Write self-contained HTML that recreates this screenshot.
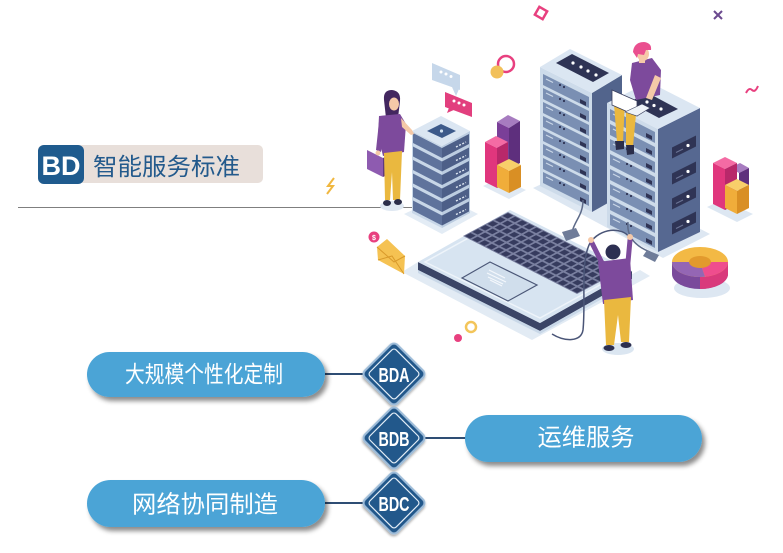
<!DOCTYPE html>
<html><head><meta charset="utf-8">
<style>
html,body{margin:0;padding:0;background:#fff;}
body{width:783px;height:553px;overflow:hidden;}
svg{display:block;}
.cjk{font-family:"Liberation Sans","Noto Sans CJK SC","WenQuanYi Zen Hei",sans-serif;}
.nar{font-family:"Liberation Sans Narrow","Liberation Sans",sans-serif;font-weight:bold;}
</style></head><body>
<svg width="783" height="553" viewBox="0 0 783 553" xmlns="http://www.w3.org/2000/svg">
<defs>
<filter id="sh" x="-10%" y="-30%" width="125%" height="180%">
<feDropShadow dx="3" dy="4" stdDeviation="2.5" flood-color="#000" flood-opacity="0.45"/>
</filter>
<filter id="dsh" x="-30%" y="-30%" width="160%" height="160%">
<feDropShadow dx="1" dy="1.5" stdDeviation="1.2" flood-color="#000" flood-opacity="0.35"/>
</filter>
<pattern id="keys" width="10" height="10" patternUnits="userSpaceOnUse" patternTransform="matrix(0.7125 0.3625 0.75 -0.4 463 236)">
<rect width="10" height="10" fill="#7a80a0"/>
<rect x="1.3" y="1.3" width="7.4" height="7.4" fill="#363b5e"/>
</pattern>
<g id="t1row">
<polygon points="543,74 589,97 589,108 543,85" fill="#7a8fb3"/>
<polygon points="580,99 586,102 586,106 580,103" fill="#2f3455"/>
<circle cx="560" cy="85" r="1.1" fill="#2f3455"/>
<circle cx="564" cy="87" r="1.1" fill="#2f3455"/>
<line x1="546" y1="79" x2="553" y2="82.5" stroke="#c9d6e6" stroke-width="1.2"/>
</g>
<g id="t2row">
<polygon points="610,109 655,132 655,143 610,120" fill="#7a8fb3"/>
<polygon points="646,133 652,136 652,140 646,137" fill="#2f3455"/>
<circle cx="627" cy="119" r="1.1" fill="#2f3455"/>
<circle cx="631" cy="121" r="1.1" fill="#2f3455"/>
<line x1="613" y1="114" x2="620" y2="117.5" stroke="#c9d6e6" stroke-width="1.2"/>
</g>
<g id="srowL"><polygon points="413,133 442,148 442,158 413,143" fill="#5f739c"/></g>
<g id="srowR"><polygon points="442,148 469,134 469,144 442,158" fill="#4d5f88"/>
<line x1="456" y1="147" x2="466" y2="142" stroke="#dfe8f3" stroke-width="1.4" stroke-dasharray="2 1.5"/></g>
<g id="slot"><polygon points="672,0 696,-12 696,-1 672,11" fill="#2f3455"/>
<circle cx="688" cy="-2" r="1.6" fill="#fff"/><line x1="676" y1="5" x2="683" y2="1.5" stroke="#6d7596" stroke-width="1"/></g>
</defs>

<!-- ===== header ===== -->
<rect x="38" y="145" width="225" height="38" rx="5" fill="#e8dfda"/>
<rect x="38" y="145" width="46" height="39" rx="6" fill="#1f5b8e"/>
<text x="61" y="175" font-size="27" font-weight="bold" fill="#fff" text-anchor="middle" font-family="Liberation Sans, sans-serif">BD</text>
<text x="93" y="175" font-size="24" fill="#235a8c" class="cjk" textLength="147" lengthAdjust="spacingAndGlyphs">智能服务标准</text>
<line x1="18" y1="207.5" x2="420" y2="207.5" stroke="#7f7f7f" stroke-width="1"/>

<!-- ===== illustration ===== -->
<!-- floor shadows -->
<polygon points="404,214 442,234 478,214 442,196" fill="#e3ecf5"/>
<ellipse cx="392" cy="206" rx="12" ry="5" fill="#dfe8f2"/>
<polygon points="533,188 663,258 710,234 580,166" fill="#dde7f2"/>
<polygon points="483,186 509,199 526,190 500,178" fill="#e0e9f3"/>
<polygon points="707,207 737,222 753,214 722,200" fill="#dde7f2"/>
<ellipse cx="702" cy="288" rx="28" ry="10" fill="#dde7f2"/>
<ellipse cx="618" cy="349" rx="16" ry="6" fill="#dbe6f1"/>

<!-- small server stack -->
<polygon points="412,131 442,146 442,228 412,213" fill="#c8d7e8"/>
<use href="#srowL"/><use href="#srowL" y="13.5"/><use href="#srowL" y="27"/><use href="#srowL" y="40.5"/><use href="#srowL" y="54"/><use href="#srowL" y="67.5"/>
<polygon points="442,146 470,131 470,213 442,228" fill="#bccde1"/>
<use href="#srowR"/><use href="#srowR" y="13.5"/><use href="#srowR" y="27"/><use href="#srowR" y="40.5"/><use href="#srowR" y="54"/><use href="#srowR" y="67.5"/>
<polygon points="412,131 441,116 470,131 442,146" fill="#dbe6f2"/>
<polygon points="427,131 441,124 456,131 442,138" fill="#3d5a8a"/>
<circle cx="441.5" cy="131" r="1.6" fill="#cfe0f0"/>

<!-- woman -->
<polygon points="367,150 383,158 383,177 367,169" fill="#8e5bb0"/>
<polygon points="383,158 385,157 385,176 383,177" fill="#5e3a7e"/>
<path d="M384,100 Q383,90 392,90 Q401,91 400,101 L398,118 L386,118 Z" fill="#43275f"/>
<ellipse cx="394" cy="104" rx="5" ry="6.5" fill="#f5c9a8"/>
<polygon points="379,116 400,114 406,124 404,152 383,156 378,135" fill="#7d4a9c"/>
<polygon points="401,118 412,130 414,134 411,135 402,127" fill="#f5c9a8"/>
<polygon points="379,122 385,124 381,152 376,150" fill="#7d4a9c"/>
<circle cx="378" cy="153" r="2.5" fill="#f5c9a8"/>
<polygon points="384,153 402,151 400,200 393,200 392,172 390,200 385,200" fill="#eab83f"/>
<ellipse cx="387" cy="203" rx="4" ry="3" fill="#2b2e4a"/>
<ellipse cx="398" cy="202" rx="4" ry="3" fill="#2b2e4a"/>

<!-- chat bubbles -->
<polygon points="432,63 460,75 460,90 432,80" fill="#c6d7ea"/>
<polygon points="452,87 456,96 459,89" fill="#c6d7ea"/>
<circle cx="441" cy="72" r="1.5" fill="#fff"/><circle cx="446" cy="74" r="1.5" fill="#fff"/><circle cx="451" cy="76.5" r="1.5" fill="#fff"/>
<polygon points="445,92 472,103 472,117 445,107" fill="#e23f7e"/>
<polygon points="450,105 447,113 456,109" fill="#e23f7e"/>
<circle cx="454" cy="101" r="1.5" fill="#fff"/><circle cx="459" cy="103" r="1.5" fill="#fff"/><circle cx="464" cy="105" r="1.5" fill="#fff"/>

<!-- ring -->
<circle cx="506" cy="64" r="8" fill="none" stroke="#e8407f" stroke-width="2.5"/>
<circle cx="497" cy="72" r="6.5" fill="#f2c05a"/>

<!-- left bar chart -->
<polygon points="497,122 508,115 520,121 509,128" fill="#a77cc0"/>
<polygon points="497,122 509,128 509,170 497,164" fill="#7a3f98"/>
<polygon points="509,128 520,121 520,163 509,170" fill="#5e2f7d"/>
<polygon points="485,142 496,136 508,142 497,148" fill="#f46ba4"/>
<polygon points="485,142 497,148 497,188 485,182" fill="#e0367d"/>
<polygon points="497,148 508,142 508,182 497,188" fill="#b8286a"/>
<polygon points="497,165 509,159 521,165 509,171" fill="#f8cf6a"/>
<polygon points="497,165 509,171 509,193 497,187" fill="#f0ad3a"/>
<polygon points="509,171 521,165 521,187 509,193" fill="#d98f24"/>

<!-- tower 1 -->
<polygon points="592,93 622,75 622,195 592,212" fill="#52648c"/>
<polygon points="540,67 592,93 592,212 540,186" fill="#cddbea"/>
<use href="#t1row"/><use href="#t1row" y="14"/><use href="#t1row" y="28"/><use href="#t1row" y="42"/><use href="#t1row" y="56"/><use href="#t1row" y="70"/><use href="#t1row" y="84"/><use href="#t1row" y="98"/>
<polygon points="540,67 570,49 622,75 592,93" fill="#dbe6f2"/>
<polygon points="556,63 572,54 609,73 593,82" fill="#2f3455"/>
<circle cx="573" cy="63" r="1.6" fill="#fff"/><circle cx="581" cy="67" r="1.6" fill="#fff"/><circle cx="588" cy="71" r="1.6" fill="#fff"/><circle cx="596" cy="75" r="1.6" fill="#fff"/>

<!-- tower 2 -->
<polygon points="607,103 658,129 658,252 607,227" fill="#cddbea"/>
<use href="#t2row"/><use href="#t2row" y="15"/><use href="#t2row" y="30"/><use href="#t2row" y="45"/><use href="#t2row" y="60"/><use href="#t2row" y="75"/><use href="#t2row" y="90"/><use href="#t2row" y="105"/>
<polygon points="658,129 700,108 700,232 658,252" fill="#566891"/>
<use href="#slot" y="147.5"/><use href="#slot" y="173.5"/><use href="#slot" y="198.5"/><use href="#slot" y="223.5"/>
<polygon points="607,103 649,82 700,108 658,129" fill="#dbe6f2"/>
<polygon points="629,102 648,93 678,109 659,118" fill="#2f3455"/>
<circle cx="647" cy="102" r="1.6" fill="#fff"/><circle cx="654" cy="105.5" r="1.6" fill="#fff"/><circle cx="661" cy="109" r="1.6" fill="#fff"/>

<!-- sitting person -->
<polygon points="614,104 625,100 623,142 617,142" fill="#eab83f"/>
<polygon points="626,102 637,104 633,146 626,146" fill="#eab83f"/>
<polygon points="615,141 624,141 624,149 616,150" fill="#2b2e4a"/>
<polygon points="626,145 634,145 634,154 627,155" fill="#2b2e4a"/>
<polygon points="632,63 652,58 661,70 660,95 636,100 630,80" fill="#7d4a9c"/>
<polygon points="655,75 661,78 652,100 646,98" fill="#f5c9a8"/>
<polygon points="612,90 637,101 637,116 612,105" fill="#fff" stroke="#3a3f5e" stroke-width="0.8"/>
<polygon points="625,112 642,104 650,108 637,116" fill="#eef3f8" stroke="#3a3f5e" stroke-width="0.6"/>
<rect x="639" y="55" width="6" height="8" fill="#f5c9a8"/>
<ellipse cx="643" cy="54" rx="6" ry="7" fill="#f5c9a8"/>
<path d="M633,52 Q634,42 644,42 Q652,43 651,50 L646,50 L644,55 L638,54 L637,58 Z" fill="#ea4f8f"/>

<!-- laptop -->
<polygon points="402,272 532,340 650,276 640,270 540,323 418,262" fill="#e2ebf4"/>
<polygon points="418,262 540,323 632,271 632,279 540,331 418,270" fill="#3b4567"/>
<polygon points="418,270 540,331 632,279 632,282 540,334 418,273" fill="#c9d8e8"/>
<polygon points="418,262 510,210 632,271 540,323" fill="#d7e4f1"/>
<polygon points="425,262 510,215 625,271 540,318" fill="none" stroke="#eef4fa" stroke-width="1.5"/>
<polygon points="463,236 508,212 622,270 577,294" fill="url(#keys)"/>
<polygon points="462,278 490,262 537,285 508,301" fill="#d0deec" stroke="#4c5878" stroke-width="1.2"/>
<g stroke="#f4f8fc" stroke-width="1.2">
<line x1="489" y1="270" x2="505" y2="278"/><line x1="487" y1="273" x2="506" y2="282"/><line x1="488" y1="277" x2="503" y2="284"/><line x1="490" y1="280" x2="502" y2="286"/>
</g>

<!-- cables & plugs -->
<path d="M583,200 C583,215 575,220 572,232" stroke="#5d6a88" stroke-width="1.5" fill="none"/>
<polygon points="562,232 576,228 580,236 566,241" fill="#6f7c99"/>
<path d="M628,222 C626,240 640,248 650,252" stroke="#5d6a88" stroke-width="1.5" fill="none"/>
<polygon points="647,250 659,255 655,262 643,256" fill="#6f7c99"/>
<path d="M590,243 C600,228 622,226 630,238" stroke="#4a5577" stroke-width="1.5" fill="none"/>
<path d="M590,243 C580,262 586,300 583,330 C581,342 565,342 552,334" stroke="#4a5577" stroke-width="1.5" fill="none"/>

<!-- man -->
<line x1="602" y1="263" x2="592" y2="243" stroke="#7d4a9c" stroke-width="5" stroke-linecap="round"/>
<line x1="628" y1="262" x2="630" y2="240" stroke="#7d4a9c" stroke-width="5" stroke-linecap="round"/>
<circle cx="591" cy="240" r="3" fill="#f5c9a8"/>
<circle cx="630" cy="237" r="3" fill="#f5c9a8"/>
<polygon points="598,262 630,258 633,300 603,304" fill="#7d4a9c"/>
<circle cx="613" cy="252" r="7.5" fill="#2c2f52"/>
<polygon points="604,300 631,297 629,342 621,342 618,315 614,345 606,345" fill="#eab83f"/>
<ellipse cx="609" cy="348" rx="5.5" ry="3" fill="#2c2f4f"/>
<ellipse cx="626" cy="345" rx="5.5" ry="3" fill="#2c2f4f"/>

<!-- donut -->
<ellipse cx="700" cy="274" rx="28" ry="15" fill="#7a4a9b"/>
<path d="M700,259 A28,15 0 0 1 728,274 A28,15 0 0 1 700,289 Z" fill="#d93a7c"/>
<rect x="672" y="262" width="28" height="12" fill="#7a4a9b"/>
<rect x="700" y="262" width="28" height="12" fill="#d93a7c"/>
<ellipse cx="700" cy="262" rx="28" ry="15" fill="#f3b945"/>
<path d="M700,262 L728,262 A28,15 0 0 1 705,276.8 Z" fill="#ef4d8e"/>
<path d="M700,262 L705,276.8 A28,15 0 0 1 672,262 Z" fill="#9466b4"/>
<ellipse cx="700" cy="262" rx="11" ry="6" fill="#e29a2d"/>

<!-- right chart -->
<polygon points="730,168 740,163 749,168 739,173" fill="#a77cc0"/>
<polygon points="739,173 749,168 749,200 739,205" fill="#5e2f7d"/>
<polygon points="713,163 725,157 737,163 725,169" fill="#f46ba4"/>
<polygon points="713,163 725,169 725,210 713,204" fill="#e0367d"/>
<polygon points="725,169 737,163 737,204 725,210" fill="#b8286a"/>
<polygon points="725,185 737,179 749,185 737,191" fill="#f8cf6a"/>
<polygon points="725,185 737,191 737,214 725,208" fill="#f0ad3a"/>
<polygon points="737,191 749,185 749,208 737,214" fill="#d98f24"/>

<!-- envelope -->
<polygon points="377,247 387,239 405,256 404,274 378,260" fill="#f5c252"/>
<polyline points="378,260 392,256 404,274" fill="none" stroke="#d99a2b" stroke-width="1"/>
<polyline points="377,247 394,262 405,256" fill="none" stroke="#d99a2b" stroke-width="1"/>
<circle cx="374" cy="237" r="5.5" fill="#e8407f"/>
<text x="374" y="240" font-size="7" fill="#fff" text-anchor="middle" font-family="Liberation Sans, sans-serif" font-weight="bold">$</text>

<!-- decorations -->
<rect x="-4.5" y="-4.5" width="9" height="9" transform="translate(541,13) rotate(30)" fill="none" stroke="#e8407f" stroke-width="2.5"/>
<g stroke="#6b4a8f" stroke-width="2"><line x1="714" y1="11" x2="722" y2="19"/><line x1="722" y1="11" x2="714" y2="19"/></g>
<path d="M746,93 q3,-6 6,-3 q3,3 6,-4" stroke="#e8407f" stroke-width="2" fill="none"/>
<path d="M334,178 L328,186 L333,186 L327,194" stroke="#f0b740" stroke-width="2" fill="none"/>
<circle cx="458" cy="338" r="4" fill="#e8407f"/>
<circle cx="471" cy="327" r="5" fill="none" stroke="#f3c55a" stroke-width="2.5"/>

<!-- ===== connectors ===== -->
<line x1="325" y1="374" x2="366" y2="374" stroke="#2e4d74" stroke-width="2"/>
<line x1="422" y1="438" x2="466" y2="438" stroke="#2e4d74" stroke-width="2"/>
<line x1="325" y1="503" x2="366" y2="503" stroke="#2e4d74" stroke-width="2"/>

<!-- ===== pills ===== -->
<rect x="87" y="352" width="238" height="45" rx="22.5" fill="#4ba4d6" filter="url(#sh)"/>
<text x="204" y="382" font-size="23" fill="#fff" class="cjk" text-anchor="middle" textLength="158" lengthAdjust="spacingAndGlyphs">大规模个性化定制</text>
<rect x="465" y="415" width="237" height="47" rx="23.5" fill="#4ba4d6" filter="url(#sh)"/>
<text x="586" y="445.5" font-size="24" fill="#fff" class="cjk" text-anchor="middle" textLength="97" lengthAdjust="spacingAndGlyphs">运维服务</text>
<rect x="87" y="480" width="238" height="47" rx="23.5" fill="#4ba4d6" filter="url(#sh)"/>
<text x="205" y="512.5" font-size="24" fill="#fff" class="cjk" text-anchor="middle" textLength="146" lengthAdjust="spacingAndGlyphs">网络协同制造</text>

<!-- ===== diamonds ===== -->
<g transform="translate(394,374)">
<rect x="-23" y="-23" width="46" height="46" rx="5" transform="rotate(45)" fill="#24588b" stroke="#9dbcd9" stroke-width="2" filter="url(#dsh)"/>
<rect x="-18.5" y="-18.5" width="37" height="37" rx="3" transform="rotate(45)" fill="none" stroke="#e4eef7" stroke-width="1.2"/>
<text x="0" y="8" font-size="20" fill="#fff" class="nar" text-anchor="middle" textLength="31" lengthAdjust="spacingAndGlyphs">BDA</text>
</g>
<g transform="translate(394,438)">
<rect x="-23" y="-23" width="46" height="46" rx="5" transform="rotate(45)" fill="#24588b" stroke="#9dbcd9" stroke-width="2" filter="url(#dsh)"/>
<rect x="-18.5" y="-18.5" width="37" height="37" rx="3" transform="rotate(45)" fill="none" stroke="#e4eef7" stroke-width="1.2"/>
<text x="0" y="8" font-size="20" fill="#fff" class="nar" text-anchor="middle" textLength="31" lengthAdjust="spacingAndGlyphs">BDB</text>
</g>
<g transform="translate(394,503)">
<rect x="-23" y="-23" width="46" height="46" rx="5" transform="rotate(45)" fill="#24588b" stroke="#9dbcd9" stroke-width="2" filter="url(#dsh)"/>
<rect x="-18.5" y="-18.5" width="37" height="37" rx="3" transform="rotate(45)" fill="none" stroke="#e4eef7" stroke-width="1.2"/>
<text x="0" y="8" font-size="20" fill="#fff" class="nar" text-anchor="middle" textLength="31" lengthAdjust="spacingAndGlyphs">BDC</text>
</g>
</svg>
</body></html>
